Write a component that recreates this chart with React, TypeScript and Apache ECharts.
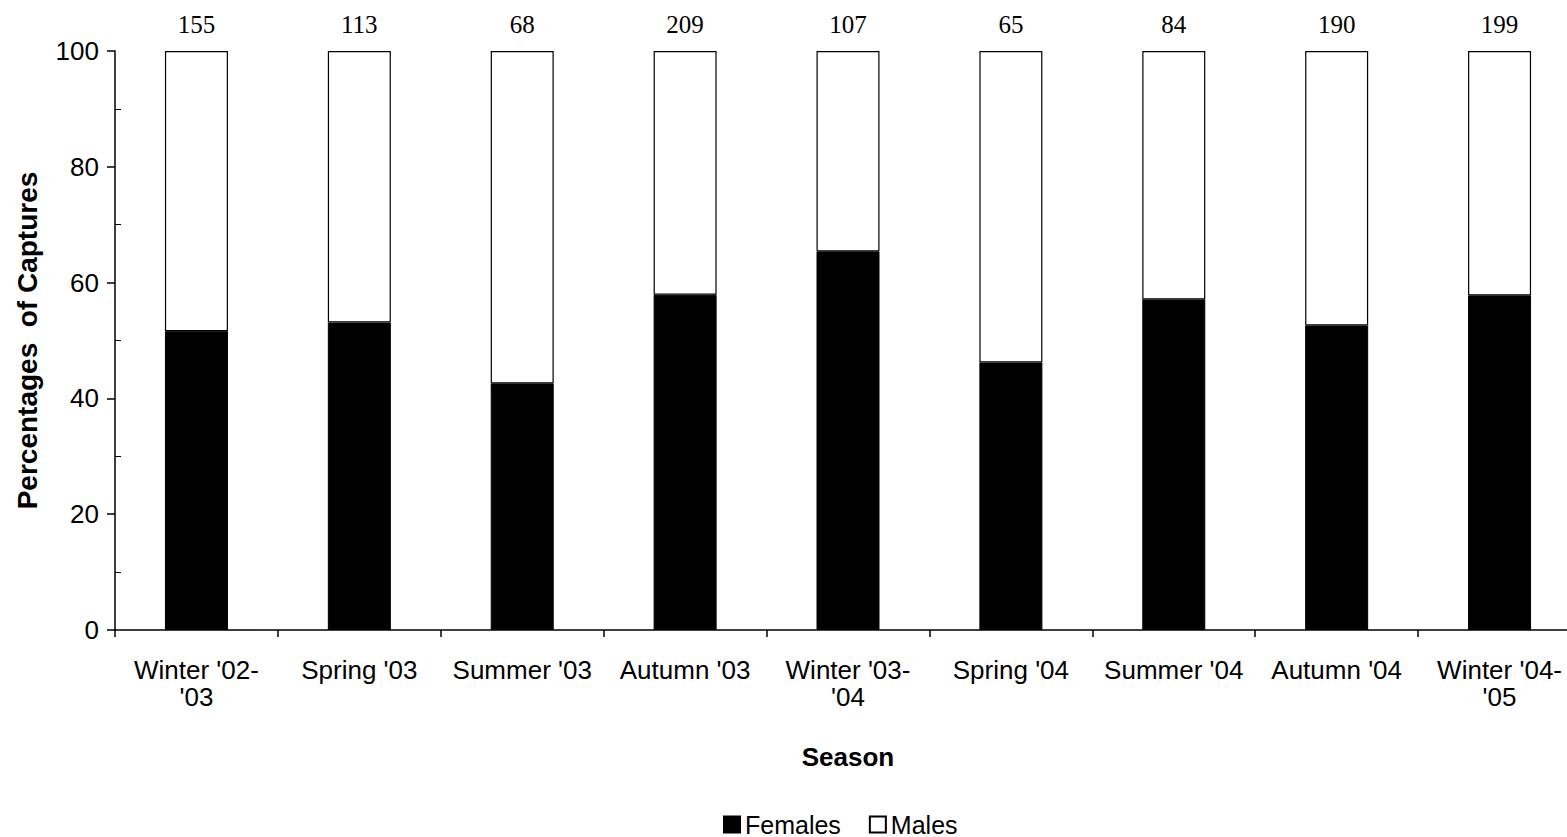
import React, { useEffect, useRef } from "react";
import * as echarts from "echarts";

const seasons = [
  "Winter '02-\n'03",
  "Spring '03",
  "Summer '03",
  "Autumn '03",
  "Winter '03-\n'04",
  "Spring '04",
  "Summer '04",
  "Autumn '04",
  "Winter '04-\n'05",
];
const females = [51.6, 53.1, 42.6, 57.9, 65.4, 46.2, 57.1, 52.6, 57.8];
const males = [48.4, 46.9, 57.4, 42.1, 34.6, 53.8, 42.9, 47.4, 42.2];
const captures = [155, 113, 68, 209, 107, 65, 84, 190, 199];
const yTicks = [0, 20, 40, 60, 80, 100];

const SANS = "'Liberation Sans', Arial, sans-serif";
const SERIF = "'Liberation Serif', 'Times New Roman', serif";

export default function App() {
  const ref = useRef<HTMLDivElement>(null);
  useEffect(() => {
    if (!ref.current) return;
    const chart = echarts.init(ref.current, undefined, { renderer: "svg" });
    chart.setOption({
      animation: false,
      backgroundColor: "#ffffff",
      grid: { left: 115, right: 2, top: 51, bottom: 207, containLabel: false },
      legend: {
        left: 718,
        top: 807,
        itemWidth: 16,
        itemHeight: 16,
        itemGap: 28,
        icon: "rect",
        textStyle: { fontFamily: SANS, fontSize: 25, color: "#000" },
        data: ["Females", "Males"],
      },
      xAxis: {
        type: "category",
        data: seasons,
        boundaryGap: true,
        name: "Season",
        nameLocation: "middle",
        nameGap: 114,
        nameTextStyle: { fontFamily: SANS, fontSize: 26, fontWeight: "bold", color: "#000" },
        axisLine: { lineStyle: { color: "#000", width: 1.5 } },
        axisTick: { show: true, length: 7, lineStyle: { color: "#000", width: 1.5 } },
        axisLabel: {
          fontFamily: SANS,
          fontSize: 26,
          color: "#000",
          margin: 26,
          lineHeight: 27,
          interval: 0,
        },
      },
      yAxis: {
        type: "value",
        min: yTicks[0],
        max: yTicks[yTicks.length - 1],
        interval: 20,
        name: "Percentages  of Captures",
        nameLocation: "middle",
        nameGap: 74,
        nameTextStyle: { fontFamily: SANS, fontSize: 28, fontWeight: "bold", color: "#000" },
        axisLine: { show: true, lineStyle: { color: "#000", width: 1.5 } },
        axisTick: { show: true, length: 8, lineStyle: { color: "#000", width: 1.5 } },
        minorTick: { show: true, splitNumber: 2, length: -6, lineStyle: { color: "#000", width: 1 } },
        splitLine: { show: false },
        axisLabel: { fontFamily: SANS, fontSize: 26, color: "#000", margin: 16 },
      },
      series: [
        {
          name: "Females",
          type: "bar",
          stack: "total",
          data: females,
          barWidth: 63,
          itemStyle: { color: "#000", borderColor: "#000", borderWidth: 1 },
        },
        {
          name: "Males",
          type: "bar",
          stack: "total",
          data: males,
          barWidth: 63,
          itemStyle: { color: "#fff", borderColor: "#000", borderWidth: 1.2 },
          label: {
            show: true,
            position: "top",
            distance: 14,
            fontFamily: SERIF,
            fontSize: 25,
            color: "#000",
            formatter: (p: any) => String(captures[p.dataIndex]),
          },
        },
      ],
    });
    return () => chart.dispose();
  }, []);
  return (
    <div
      style={{ position: "absolute", left: 0, top: 0, width: 1567, height: 837, overflow: "hidden", background: "#fff" }}
    >
      <div ref={ref} style={{ position: "absolute", left: 0, top: 0, width: 1583, height: 837 }} />
    </div>
  );
}
